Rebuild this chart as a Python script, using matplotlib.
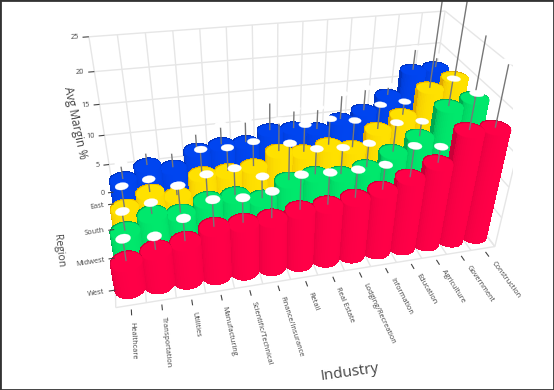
import numpy as np
import matplotlib
matplotlib.use('Agg')
import matplotlib.pyplot as plt
from matplotlib.patches import Rectangle
from mpl_toolkits.mplot3d import proj3d
from mpl_toolkits.mplot3d.art3d import Poly3DCollection

plt.rcParams['font.family'] = ['Open Sans', 'DejaVu Sans']

industries = ['Healthcare', 'Transportation', 'Utilities', 'Manufacturing', 'Scientific/Technical',
              'Finance/Insurance', 'Retail', 'Real Estate', 'Lodging/Recreation', 'Information',
              'Education', 'Agriculture', 'Government', 'Construction']
regions = ['West', 'Midwest', 'South', 'East']
z_ticks = [0, 5, 10, 15, 20, 25]

west = [4.4, 5.5, 6.2, 7.8, 7.8, 7.9, 8.6, 8.8, 9.3, 10.0, 11.4, 13.1, 17.5, 17.4]
midwest = [4.3, 6.4, 6.0, 7.5, 7.7, 6.6, 9.0, 9.4, 8.9, 9.5, 11.5, 13.5, 17.7, 18.5]
south = [3.6, 5.6, 4.5, 7.5, 7.5, 7.8, 9.8, 9.2, 9.9, 9.0, 11.6, 13.5, 17.4, 18.7]
east = [4.2, 6.1, 5.2, 7.7, 8.2, 8.1, 9.7, 9.6, 9.0, 10.3, 11.4, 13.6, 17.4, 17.5]

west_err = [3.6, 2.2, 3.6, 4.2, 3.9, 4.2, 5.4, 5.0, 4.4, 3.9, 4.8, 2.5, 5.2, 9.2]
midwest_err = [3.2, 1.9, 4.4, 4.1, 4.3, 3.6, 5.8, 4.1, 4.3, 3.9, 4.6, 2.4, 4.1, 9.3]
south_err = [3.6, 2.2, 1.7, 4.1, 3.9, 4.1, 5.0, 4.5, 4.3, 4.5, 4.0, 2.2, 14.1, 12.6]
east_err = [2.8, 2.6, 3.0, 3.2, 3.4, 3.9, 5.0, 3.4, 3.8, 4.4, 3.9, 1.7, 3.6, 1.9]

values = [west, midwest, south, east]
errors = [west_err, midwest_err, south_err, east_err]
colors = ['#ff0047', '#00e86c', '#ffe100', '#0045f0']
edge_colors = ['#c80038', '#00a850', '#e0a800', '#0034c0']

# bar radius in data units, y is squeezed because a category row is wider there
RX, RY = 0.52, 0.31
CAP = 0.24
GRID = '#e6e6e6'
TICK = '#444444'

fig = plt.figure(figsize=(5.54, 3.9), dpi=100)
ax = fig.add_axes([68.8 / 554, 17.4 / 390, 444.5 / 554, 444.5 / 390], projection='3d', computed_zorder=False)
ax.set_axis_off()
ax.set_xlim(-0.5, 13.5)
ax.set_ylim(-0.5, 3.5)
ax.set_zlim(0, 25)
ax.view_init(31.87, -104.86, -1.43)
ax.set_proj_type('persp', focal_length=0.2704)
ax.set_box_aspect((2.019, 0.9628, 1))
M = ax.get_proj()

order = [0]


def next_z():
    order[0] += 1
    return order[0]


def line3d(xs, ys, zs, color, lw):
    ax.plot(xs, ys, zs, color=color, lw=lw, zorder=next_z(), solid_capstyle='butt')


def blend(dark, bright, f):
    a = np.array(matplotlib.colors.to_rgb(dark))
    b = np.array(matplotlib.colors.to_rgb(bright))
    return tuple(a + (b - a) * f) + (1.0,)


def draw_disc(x, y, z, rx, ry, color):
    t = np.linspace(0, 2 * np.pi, 40)
    verts = list(zip(x + rx * np.cos(t), y + ry * np.sin(t), np.full_like(t, z)))
    ax.add_collection3d(Poly3DCollection([verts], facecolor=color, edgecolor=color, linewidth=0.2,
                                         zorder=next_z()))


def draw_bar(x, y, h, err, color, dark):
    t = np.linspace(0, 2 * np.pi, 49)
    X = np.array([x + RX * np.cos(t)] * 2)
    Y = np.array([y + RY * np.sin(t)] * 2)
    Z = np.array([np.zeros_like(t), np.full_like(t, h)])
    mid = (t[:-1] + t[1:]) / 2
    # only a narrow strip at the left edge of the cylinder goes dark
    light = np.clip(np.cos(mid + np.radians(75)), 0, 1) ** 0.28
    fc = np.array([[blend(dark, color, v) for v in light]])
    ax.plot_surface(X, Y, Z, facecolors=fc, shade=False, linewidth=0, antialiased=False,
                    rstride=1, cstride=1, zorder=next_z())
    draw_disc(x, y, h, RX, RY, color)
    line3d([x, x], [y, y], [h, h + err], '#777777', 1.0)
    draw_disc(x, y, h + err, CAP, CAP * RY / RX, 'white')


def screen_pos(x, y, z):
    u, v, _ = proj3d.proj_transform(x, y, z, M)
    return u, v


def screen_angle(p0, p1):
    u0, v0 = screen_pos(*p0)
    u1, v1 = screen_pos(*p1)
    return np.degrees(np.arctan2(v1 - v0, u1 - u0))


def label3d(x, y, z, text, rot, ha):
    u, v = screen_pos(x, y, z)
    ax.text2D(u, v, text, rotation=rot, rotation_mode='anchor', ha=ha, va='center',
              fontsize=5.3, color=TICK, zorder=next_z())


# walls and floor
for gx in np.arange(-0.5, 14):
    line3d([gx, gx], [3.5, 3.5], [0, 25], GRID, 1.0)
    line3d([gx, gx], [-0.5, 3.5], [0, 0], GRID, 1.0)
for gz in z_ticks:
    line3d([-0.5, 13.5], [3.5, 3.5], [gz, gz], GRID, 1.0)
    line3d([13.5, 13.5], [-0.5, 3.5], [gz, gz], GRID, 1.0)
line3d([-0.5, 13.5], [-0.5, -0.5], [0, 0], GRID, 1.0)
line3d([13.5, 13.5], [-0.5, -0.5], [0, 25], GRID, 1.0)

# bars, far row first and far category first so they paint over each other
for j in range(3, -1, -1):
    for i in range(13, -1, -1):
        draw_bar(i, j, values[j][i], errors[j][i], colors[j], edge_colors[j])

# ticks and their labels
for i, name in enumerate(industries):
    line3d([i, i], [-0.62, -0.78], [0, 0], TICK, 0.8)
    rot = screen_angle((i, -0.6, 0), (i, -0.9, 0))
    label3d(i, -0.95, 0, name, rot, 'left')
for j, name in enumerate(regions):
    line3d([-0.5, -0.72], [j, j], [0, 0], TICK, 0.8)
    label3d(-0.86, j, 0, name, 9, 'right')
for v in z_ticks:
    line3d([-0.5, -0.72], [3.5, 3.5], [v, v], TICK, 0.8)
    label3d(-0.86, 3.5, v, str(v), 3, 'right')

fig.text(75 / 554, 1 - 123 / 390, 'Avg Margin %', rotation=-78, ha='center', va='center', fontsize=8.5, color=TICK)
fig.text(58 / 554, 1 - 251 / 390, 'Region', rotation=-83, ha='center', va='center', fontsize=7.5, color=TICK)
fig.text(350 / 554, 1 - 372 / 390, 'Industry', rotation=8, ha='center', va='center', fontsize=11, color=TICK)

fig.add_artist(Rectangle((0, 0), 1, 1, transform=fig.transFigure, fill=False, edgecolor='#333333', linewidth=2))
fig.savefig('out.png', dpi=100)
